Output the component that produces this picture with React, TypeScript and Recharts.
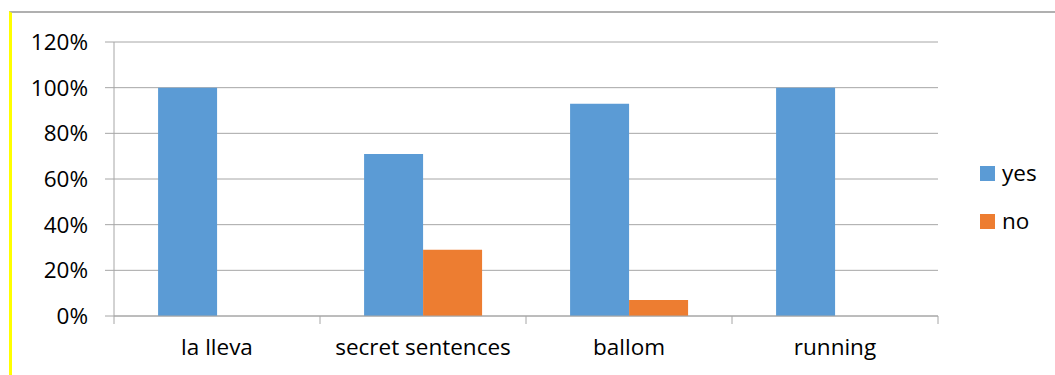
import React from "react";
import { BarChart, Bar, XAxis, YAxis, CartesianGrid } from "recharts";

// chart values
const categories = ["la lleva", "secret sentences", "ballom", "running"];
const yesValues = [100, 71, 93, 100];
const noValues = [0, 29, 7, 0];
const yTicks = [0, 20, 40, 60, 80, 100, 120];

const seriesNames = ["yes", "no"];
const seriesColors = ["#5B9BD5", "#ED7D31"];

const data = categories.map((name, i) => ({
  name,
  yes: yesValues[i],
  no: noValues[i],
}));

const FONT = "'Open Sans', sans-serif";
const GRID = "#a6a6a6";

// category label plus tick marks on the band edges (Excel style)
const CategoryTick = (props: any) => {
  const { x, y, payload, index, visibleTicksCount } = props;
  const half = payload?.offset ?? 0;
  return (
    <g>
      <line x1={x - half} x2={x - half} y1={y} y2={y + 8} stroke={GRID} />
      {index === visibleTicksCount - 1 && (
        <line x1={x + half} x2={x + half} y1={y} y2={y + 8} stroke={GRID} />
      )}
      <text x={x} y={y + 39} textAnchor="middle" fill="#000" fontSize={22.5} fontFamily={FONT}>
        {payload.value}
      </text>
    </g>
  );
};

export default function App() {
  return (
    <div style={{ position: "absolute", left: 0, top: 0, width: 1055, height: 375, background: "#fff" }}>
      {/* frame of the chart object */}
      <div
        style={{
          position: "absolute",
          left: 9,
          top: 11,
          width: 1046,
          height: 364,
          borderTop: "2px solid #b0b0b0",
          borderLeft: "3px solid #ffff00",
          boxSizing: "border-box",
        }}
      />
      <div style={{ position: "absolute", left: 0, top: 0 }}>
        <BarChart
          width={1055}
          height={375}
          data={data}
          margin={{ top: 42, right: 117, bottom: 0, left: 0 }}
          barCategoryGap="21.4%"
          barGap={0}
        >
          <CartesianGrid vertical={false} stroke={GRID} />
          <XAxis
            dataKey="name"
            height={59}
            axisLine={{ stroke: GRID }}
            tickLine={false}
            tickSize={0}
            tickMargin={0}
            interval={0}
            tick={<CategoryTick />}
          />
          <YAxis
            width={114}
            domain={[0, 120]}
            ticks={yTicks}
            interval={0}
            tickFormatter={(v) => `${v}%`}
            axisLine={{ stroke: GRID }}
            tickLine={{ stroke: GRID }}
            tickSize={9}
            tickMargin={17}
            tick={{ fill: "#000", fontSize: 22.5, fontFamily: FONT }}
          />
          <Bar dataKey="yes" fill={seriesColors[0]} isAnimationActive={false} />
          <Bar dataKey="no" fill={seriesColors[1]} isAnimationActive={false} />
        </BarChart>
      </div>
      {/* legend */}
      {seriesNames.map((name, i) => (
        <div
          key={name}
          style={{
            position: "absolute",
            left: 980,
            top: 158 + i * 48,
            height: 30,
            display: "flex",
            alignItems: "center",
            fontFamily: FONT,
            fontSize: 22.5,
            color: "#000",
          }}
        >
          <span style={{ display: "inline-block", width: 15, height: 15, background: seriesColors[i], marginRight: 7 }} />
          <span style={{ lineHeight: "30px" }}>{name}</span>
        </div>
      ))}
    </div>
  );
}
